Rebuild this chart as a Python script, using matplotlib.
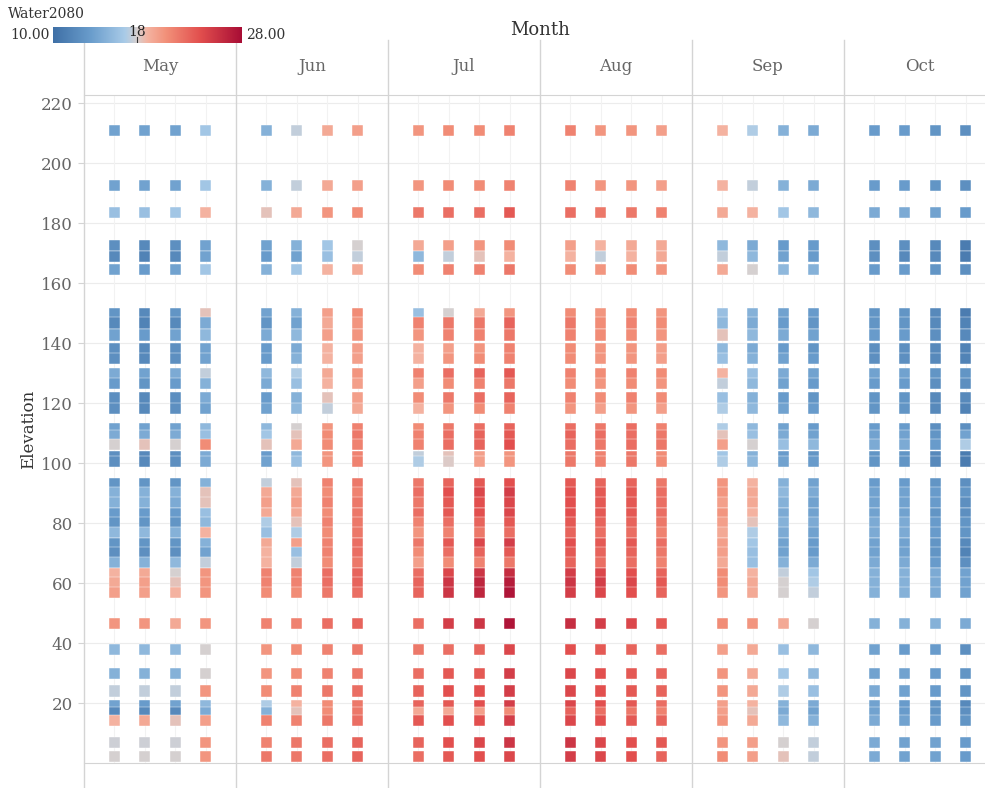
import numpy as np
import matplotlib.pyplot as plt
from matplotlib.colors import LinearSegmentedColormap, Normalize

plt.rcParams['font.family'] = ['DejaVu Serif']

months = ['May', 'Jun', 'Jul', 'Aug', 'Sep', 'Oct']
weeks = [1, 2, 3, 4]

elevation = [211, 192.5, 183.5,
             172.5, 169, 164.5,
             150, 146.7, 142.7, 138.3, 135, 130, 126.5, 121.7, 118.3,
             111.5, 109, 106.3, 102, 100.5,
             93.3, 90, 86.7, 83.3, 80, 76.7, 73.3, 70, 66.7, 63.3, 60, 56.7,
             46.5, 37.7, 29.8, 24, 19.3, 16.7, 14.3, 6.8, 2.2]

# water temperature, one row per elevation, one column per week
may = [[14, 14, 14, 16.5], [14, 14, 14, 16.5], [16, 16, 16.5, 19],
       [12.5, 12, 12.5, 14], [12, 11.5, 12, 14], [14, 13.5, 14, 16.5],
       [13, 12, 13, 18.5], [12, 11.5, 12, 14.5], [14, 13.5, 14, 15.5],
       [12.5, 12, 12.5, 14], [12.5, 12, 12.5, 14], [14.5, 14, 14.5, 17.5],
       [13.5, 13, 13.5, 15], [12.5, 12, 12.5, 14.5], [12.5, 12, 12.5, 14],
       [14, 14, 14, 15.5], [14.5, 14.5, 14.5, 16], [18, 18.5, 18, 21],
       [12.5, 12, 12.5, 14.5], [12.5, 12, 12.5, 14.5],
       [13, 13, 13, 15], [15, 15, 15, 18.5], [15, 15, 14.5, 18.5],
       [13.5, 13.5, 13.5, 16], [13, 13, 13, 15.5], [15.5, 15.5, 15, 19],
       [13, 13, 13, 15], [12.5, 12.5, 12.5, 14], [15, 15, 15.5, 17.5],
       [19, 19.5, 18, 20.5], [19.5, 20, 18.5, 20.5], [20, 20, 19, 20.5],
       [20.5, 20.5, 19.5, 20.5], [15.5, 15.5, 15.5, 18], [15, 15, 15, 18],
       [17.5, 17.5, 17.5, 20.5], [14, 13.5, 14, 15.5], [12, 12, 12, 14.5],
       [19, 19.5, 18.5, 20], [17.8, 17.8, 17.8, 20.5], [18, 18, 18, 20.5]]

jun = [[15, 17.5, 19.5, 20], [15, 17.5, 19.5, 20], [18.5, 19.5, 20.5, 21],
       [14, 15, 16.5, 18], [13.5, 14, 16, 17.5], [15, 16.5, 19, 19.5],
       [14, 15, 20, 21], [13, 14, 19.5, 20.5], [14.5, 15.5, 20, 20.5],
       [13.5, 14.5, 19, 20], [13.5, 15, 19, 20], [15.5, 17, 19.5, 20.5],
       [14.5, 16, 19, 20], [13.5, 15, 18.5, 20], [14, 15.5, 17.5, 19.5],
       [15.5, 18, 20.5, 21.5], [16.5, 18.5, 21, 22], [18.5, 19.5, 21, 21.5],
       [13.5, 15.5, 20.5, 21.5], [14, 16, 20.5, 21.5],
       [17.5, 18.5, 21.5, 22], [19.5, 19.5, 21, 21.5], [20, 20, 21.5, 22],
       [19.5, 19.5, 21, 22], [17, 18.5, 21.5, 22], [16, 17, 21, 22],
       [19.5, 20, 21.5, 22.5], [19, 16, 21.5, 22.5], [19, 17.5, 21, 22],
       [21.5, 21.5, 22.5, 23], [21.5, 21.5, 22.5, 23], [21, 21, 22, 22.5],
       [21.5, 21.5, 22.5, 23], [20.5, 21, 21.5, 22], [20.5, 21, 21.5, 22],
       [21, 21.5, 22, 22.5], [17, 19, 21, 22], [15, 18.5, 21, 22],
       [21.5, 21.5, 22, 22.5], [21.5, 22, 22.5, 23], [22, 22, 22.5, 23]]

jul = [[20.5, 21, 21, 21.5], [20.5, 21, 21, 21.5], [22, 22.5, 22.5, 23.5],
       [19.5, 20, 20.5, 21], [15.5, 17.5, 18.5, 19], [21, 21.5, 21.5, 22],
       [16, 18, 19.5, 20.5], [21.5, 22, 22, 23], [20.5, 21.5, 21.5, 22],
       [19, 20, 20.5, 21.5], [19, 20.5, 21, 21.5], [21.5, 22.5, 23, 23.5],
       [20, 21, 21.5, 22], [21, 22, 22.5, 23], [19, 20.5, 21, 21.5],
       [21, 22, 22.5, 23], [21.5, 22.5, 23, 23.5], [21.5, 22.5, 23, 24],
       [17.5, 18.5, 20, 20.5], [17, 18.2, 20, 20.5],
       [22, 23, 23.5, 24], [22.5, 24, 24.5, 25], [22, 23.5, 24, 24.5],
       [22.5, 23.5, 24, 24.5], [21.5, 22.5, 23, 23.5], [20.5, 21.5, 22, 22.5],
       [22, 23.5, 24.5, 25], [21, 22.5, 23, 23.5], [20, 21, 21.5, 22],
       [22.5, 24.5, 25.5, 26], [23, 25.5, 26.5, 27], [23, 25.5, 26.5, 27.5],
       [22.5, 25, 25.5, 27.5], [22, 22.5, 23, 24.5], [22.5, 23.5, 23.5, 25],
       [23, 24, 24, 25], [23, 23.5, 24, 25], [19.5, 19.5, 20, 21],
       [23.5, 24, 24, 25], [23, 24, 24.5, 25.5], [22.5, 23.5, 24, 24.5]]

aug = [[21.5, 20.5, 20.5, 20], [21.5, 20.5, 20.5, 20], [22.5, 22, 22, 21.5],
       [20, 19, 19.5, 19.5], [19, 17.5, 19, 19.5], [21, 20.5, 21, 20.5],
       [21, 20.5, 21, 20.5], [22, 21, 21.5, 21], [21.5, 21, 21, 20.5],
       [21, 20.5, 20.5, 20], [21, 20.5, 20.5, 20], [21.5, 21, 21.5, 21],
       [21, 20.5, 21, 20.5], [21.5, 21, 21.5, 21], [20.5, 20, 20.5, 20],
       [22.5, 22, 22.5, 21.5], [23, 22.5, 22.5, 22], [22.5, 22, 22.5, 22],
       [22, 21.5, 22, 21], [22, 21.5, 22, 21],
       [23.5, 23, 23, 22], [24, 23.5, 23.5, 22.5], [24, 23.5, 23.5, 22.5],
       [24, 23.5, 23.5, 22.5], [23.5, 23, 23, 22], [23, 22.5, 22.5, 21.5],
       [24, 23.5, 23.5, 22.5], [23.5, 23, 23, 22], [23, 22.5, 22.5, 21.5],
       [25, 24.5, 24, 23], [25.5, 25, 24.5, 23.5], [25, 24.5, 24, 23],
       [26, 25, 24.5, 23.5], [24, 23.5, 23, 22.5], [24.5, 24, 23.5, 23],
       [24.5, 24, 23.5, 23], [24.5, 24, 23.5, 22.5], [23, 22.5, 22, 21.5],
       [24.5, 24, 23.5, 23], [25.5, 24.5, 24, 23.5], [25, 24.5, 24, 23]]

sep = [[19, 17, 15, 14.5], [19, 17.5, 15, 14.5], [19.5, 19, 16.5, 15.5],
       [15.5, 14.5, 13.5, 13.5], [17.5, 15.5, 14, 13.5], [19.5, 18, 15.5, 15],
       [16, 15, 14, 13.5], [15.5, 14.5, 13.5, 13], [18.5, 15.5, 14.5, 14],
       [15.5, 14.5, 13.5, 13], [16, 15, 14, 13.5], [19, 16, 14.5, 14],
       [17.5, 15.5, 14, 13.5], [16, 15, 13.5, 13], [17, 15.5, 14, 13.5],
       [17, 15.5, 14, 13.5], [18.5, 16, 14.5, 14], [20, 18, 16, 15.5],
       [16.5, 15, 13.5, 13], [17, 15.5, 14, 13.5],
       [20.5, 19, 15, 14], [20.5, 19.5, 15.5, 14.5], [20, 19.5, 15, 14],
       [20.5, 19, 14.5, 14], [20, 18.5, 15, 14.5], [19.5, 17, 14.5, 14],
       [20, 16.5, 14, 13.5], [20, 16, 14, 13.5], [19.5, 16, 15, 14.5],
       [21, 19, 17.5, 16.5], [21, 19.5, 18, 17], [20.5, 19.5, 18, 17.5],
       [21, 20.5, 19.5, 18], [20, 19.5, 16, 15.5], [20.5, 19.5, 16.5, 15.5],
       [20.5, 19.5, 17, 16], [20, 19, 15, 14.5], [20, 18.5, 14.5, 14],
       [20.5, 19.5, 15.5, 15], [20.5, 20, 18, 17.5], [21, 20, 18.5, 17.5]]

oct_ = [[13.5, 13.5, 13, 12.5], [13.5, 13.5, 13, 12.5], [14.5, 14.5, 14, 13.5],
        [12.5, 12.5, 12, 11], [12.5, 12, 12, 11], [13.5, 13.5, 13, 12.5],
        [13, 13, 12, 11], [13, 13, 12, 11.5], [13.5, 13.5, 12.5, 12],
        [12.5, 12.5, 12, 11.5], [12.5, 12.5, 12, 11.5], [14, 14, 13, 13],
        [13.5, 13.5, 12.5, 12.5], [13, 13, 12, 12], [13, 13, 12, 11.5],
        [13.5, 13.5, 12.5, 12.5], [14, 14, 13, 14], [14.5, 14.5, 13.5, 17],
        [13, 13, 12, 11], [13, 13, 12, 11],
        [13.5, 13.5, 13, 12.5], [14, 14, 13.5, 13], [14, 14, 13.5, 12.5],
        [14, 14, 13, 12.5], [14.5, 14.5, 13.5, 13], [14.5, 14.5, 13.5, 13],
        [14, 14, 13, 12], [14, 14, 13, 11.5], [14.5, 14.5, 13.5, 12.5],
        [15, 15, 14.5, 14], [15, 15, 14.5, 14], [15, 15, 14.5, 14],
        [15, 15, 15, 14.5], [14, 13.5, 13.5, 12.5], [14, 14, 13.5, 13],
        [14.5, 14, 13.5, 13], [14, 13.5, 13, 12], [14, 13.5, 13, 12.5],
        [14.5, 14, 13.5, 13], [14.5, 14, 14, 13.5], [14.5, 14, 14, 13.5]]

temps = [may, jun, jul, aug, sep, oct_]

vmin, vmid, vmax = 10, 18, 28
cmap = LinearSegmentedColormap.from_list('water', [
    (0.0, '#3f70a6'), (0.2, '#6a9dcc'), (0.38, '#a9cbe8'),
    (0.444, '#d6d0d0'), (0.5, '#f4b3a1'), (0.6, '#f29079'),
    (0.78, '#e24f4e'), (1.0, '#a80d35')])
norm = Normalize(vmin, vmax)

fig = plt.figure(figsize=(9.85, 7.88), dpi=100)
ax = fig.add_axes([84 / 985, 25 / 788, 912 / 985, 668 / 788])

panel_w = 5
ax.set_xlim(0, panel_w * len(months))
ax.set_ylim(0, 222.7)

# faint grid: elevation lines and one line per week column
for yv in range(20, 221, 20):
    ax.axhline(yv, color='#ececec', lw=0.8, zorder=0)
for m in range(len(months)):
    for w in weeks:
        ax.axvline(m * panel_w + w, color='#f2f2f2', lw=0.8, zorder=0)

elev = np.array(elevation)
for m, data in enumerate(temps):
    vals = np.array(data)
    for j, w in enumerate(weeks):
        xs = np.full(len(elev), m * panel_w + w)
        ax.scatter(xs, elev, c=vals[:, j], cmap=cmap, norm=norm, marker='s',
                   s=64, edgecolors='white', linewidths=0.3, zorder=2)

# panel borders running through the header and below the axis
for m in range(len(months) + 1):
    ax.plot([m * panel_w] * 2, [-0.037, 1.082], color='#d4d4d4', lw=1,
            transform=ax.get_xaxis_transform(), clip_on=False, zorder=3)
for m, name in enumerate(months):
    ax.text(m * panel_w + panel_w / 2, 1.042, name, ha='center', va='center',
            fontsize=12, color='#666666', transform=ax.get_xaxis_transform())
fig.text(540 / 985, 1 - 30 / 788, 'Month', ha='center', va='center',
         fontsize=13, color='#333333')

for side in ['top', 'bottom']:
    ax.spines[side].set_color('#d4d4d4')
for side in ['left', 'right']:
    ax.spines[side].set_visible(False)

ax.set_xticks([])
ax.set_yticks(range(20, 221, 20))
ax.tick_params(axis='y', length=4, color='#d4d4d4', labelsize=12,
               labelcolor='#666666', pad=4)
ax.set_ylabel('Elevation', fontsize=12, color='#333333', labelpad=3)

# colour legend
cax = fig.add_axes([53 / 985, 1 - 43 / 788, 189 / 985, 16 / 788])
cax.imshow(np.linspace(vmin, vmax, 256)[None, :], aspect='auto', cmap=cmap,
           norm=norm, extent=[vmin, vmax, 0, 1])
cax.set_xticks([])
cax.set_yticks([])
for s in cax.spines.values():
    s.set_visible(False)
cax.plot([vmid, vmid], [0, 0.35], color='#333333', lw=0.8)
cax.text(vmid, 0.7, '18', ha='center', va='center', fontsize=10, color='#222222')
fig.text(8 / 985, 1 - 14 / 788, 'Water2080', ha='left', va='center',
         fontsize=10, color='#333333')
fig.text(50 / 985, 1 - 35 / 788, '10.00', ha='right', va='center',
         fontsize=10, color='#333333')
fig.text(246 / 985, 1 - 35 / 788, '28.00', ha='left', va='center',
         fontsize=10, color='#333333')

fig.savefig('out.png', dpi=100)
